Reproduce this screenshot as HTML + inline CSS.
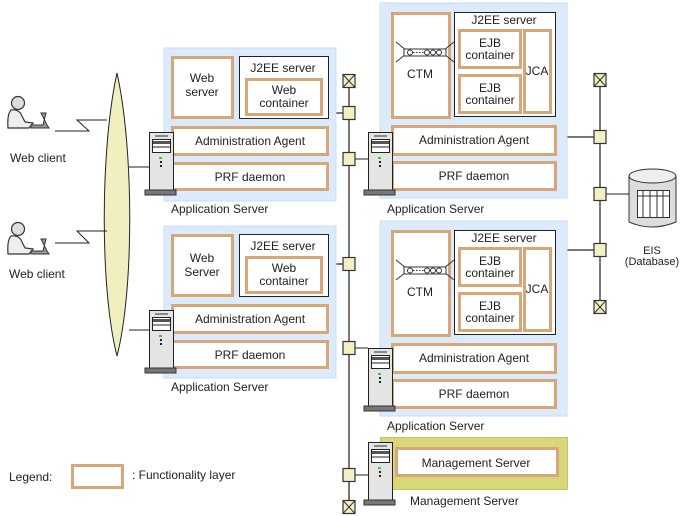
<!DOCTYPE html>
<html><head><meta charset="utf-8"><style>
html,body{margin:0;padding:0;background:#fff;}
svg{display:block;font-family:"Liberation Sans",sans-serif;}
text{font-size:12px;fill:#222;}
</style></head><body>
<svg width="684" height="516" viewBox="0 0 684 516" xmlns="http://www.w3.org/2000/svg">
<defs>
<g id="srv">
<rect x="0.5" y="0.5" width="24" height="60" fill="#e4e4e4" stroke="#222"/>
<rect x="6" y="3" width="13" height="2" fill="#888"/>
<rect x="3.5" y="7.5" width="18" height="13" fill="#fff" stroke="#222"/>
<rect x="4" y="9" width="17" height="3" fill="#555"/>
<line x1="4" y1="15" x2="21" y2="15" stroke="#222"/>
<rect x="10" y="25" width="3" height="2" fill="#3c3"/>
<rect x="11" y="29" width="2" height="2" fill="#222"/>
<rect x="11" y="33" width="2" height="2" fill="#222"/>
<rect x="-4" y="58" width="31" height="5" fill="#777" stroke="#333"/>
</g>
<g id="sq"><rect x="-6" y="-6.5" width="12" height="13" fill="#f3f0c4" stroke="#333" stroke-width="1.2"/></g>
<g id="xb"><rect x="-6" y="-6.5" width="12" height="13" fill="#f3f0c4" stroke="#333" stroke-width="1.2"/><path d="M-6 -6.5L6 6.5M6 -6.5L-6 6.5" stroke="#333"/></g>
<g id="user">
<circle cx="13" cy="7" r="6.5" fill="#ddd" stroke="#333" stroke-width="1.2"/>
<path d="M6 14 Q2 18 3 32 L24 32 L28 27 L20 26 L16 18 Q13 13 6 14Z" fill="#eee" stroke="#333" stroke-width="1.2"/>
<path d="M36 17 L41 17 L38 29 L26 29 L26 32 L44 32 L42 29 Z" fill="#999" stroke="#333" stroke-width="1"/>
</g>
<g id="ctm">
<path d="M0 0 L10 8 M0 20 L10 12 M58 0 L48 8 M58 20 L48 12" stroke="#333"/>
<rect x="8" y="7" width="42" height="7" fill="#fff" stroke="#333"/>
<circle cx="14" cy="10.5" r="2.5" fill="#fff" stroke="#333"/>
<circle cx="31" cy="10.5" r="2.5" fill="#fff" stroke="#333"/>
<circle cx="37" cy="10.5" r="2.5" fill="#fff" stroke="#333"/>
<circle cx="43" cy="10.5" r="2.5" fill="#fff" stroke="#333"/>
<line x1="17" y1="10.5" x2="28" y2="10.5" stroke="#333" stroke-dasharray="1.5,1.5"/>
</g>
</defs>

<line x1="349" y1="82" x2="349" y2="507" stroke="#777" stroke-width="2"/>
<line x1="600" y1="80" x2="600" y2="307" stroke="#777" stroke-width="2"/>

<path d="M117 73 C 100 150 100 290 117 356 C 134 290 134 150 117 73Z" fill="#f0efc0" stroke="#222"/>

<use href="#user" x="5" y="96"/>
<text x="10" y="162">Web client</text>
<path d="M55 131 H89 L77 120 H107" fill="none" stroke="#222"/>
<use href="#user" x="5" y="222"/>
<text x="9" y="278">Web client</text>
<path d="M55 243 H89 L77 231 H107" fill="none" stroke="#222"/>

<line x1="129" y1="167" x2="149" y2="167" stroke="#222"/>
<line x1="129" y1="330" x2="149" y2="330" stroke="#222"/>
<line x1="336" y1="113" x2="349" y2="113" stroke="#777" stroke-width="2"/>
<line x1="349" y1="159" x2="368" y2="159" stroke="#222"/>
<line x1="336" y1="264" x2="349" y2="264" stroke="#777" stroke-width="2"/>
<line x1="349" y1="348" x2="368" y2="348" stroke="#222"/>
<line x1="349" y1="475" x2="368" y2="475" stroke="#222"/>
<line x1="567" y1="137" x2="600" y2="137" stroke="#777" stroke-width="2"/>
<line x1="600" y1="194" x2="630" y2="194" stroke="#222"/>
<line x1="567" y1="250" x2="600" y2="250" stroke="#777" stroke-width="2"/>

<g fill="#fff" stroke="#d7a679" stroke-width="3">
<rect x="164" y="48" width="172" height="153" fill="#dcebfb" stroke="#c6ddf4" stroke-width="1"/>
<rect x="172.5" y="57.5" width="60" height="60"/>
<rect x="239.5" y="56.5" width="89" height="62" stroke="#222" stroke-width="1"/>
<rect x="246.5" y="79.5" width="75" height="35"/>
<rect x="172.5" y="127.5" width="155" height="27"/>
<rect x="172.5" y="163.5" width="155" height="26"/>
</g>
<text x="202" y="82" text-anchor="middle">Web</text><text x="202" y="96" text-anchor="middle">server</text>
<text x="283" y="72" text-anchor="middle">J2EE server</text>
<text x="284" y="94" text-anchor="middle">Web</text><text x="284" y="107" text-anchor="middle">container</text>
<text x="250" y="145" text-anchor="middle">Administration Agent</text>
<text x="250" y="181" text-anchor="middle">PRF daemon</text>
<text x="171" y="213">Application Server</text>
<use href="#srv" x="149" y="132"/>

<g fill="#fff" stroke="#d7a679" stroke-width="3">
<rect x="164" y="226" width="172" height="152" fill="#dcebfb" stroke="#c6ddf4" stroke-width="1"/>
<rect x="172.5" y="235.5" width="60" height="60"/>
<rect x="239.5" y="234.5" width="89" height="62" stroke="#222" stroke-width="1"/>
<rect x="246.5" y="257.5" width="75" height="35"/>
<rect x="172.5" y="305.5" width="155" height="27"/>
<rect x="172.5" y="341.5" width="155" height="26"/>
</g>
<text x="202" y="262" text-anchor="middle">Web</text><text x="202" y="276" text-anchor="middle">Server</text>
<text x="283" y="250" text-anchor="middle">J2EE server</text>
<text x="284" y="272" text-anchor="middle">Web</text><text x="284" y="285" text-anchor="middle">container</text>
<text x="250" y="323" text-anchor="middle">Administration Agent</text>
<text x="250" y="359" text-anchor="middle">PRF daemon</text>
<text x="171" y="391">Application Server</text>
<use href="#srv" x="149" y="310"/>

<g fill="#fff" stroke="#d7a679" stroke-width="3">
<rect x="380" y="3" width="187" height="195" fill="#dcebfb" stroke="#c6ddf4" stroke-width="1"/>
<rect x="392.5" y="13.5" width="57" height="104"/>
<rect x="454.5" y="12.5" width="101" height="104" stroke="#222" stroke-width="1"/>
<rect x="459.5" y="30.5" width="61" height="37"/>
<rect x="459.5" y="75.5" width="61" height="37"/>
<rect x="524.5" y="30.5" width="26" height="82"/>
<rect x="392.5" y="126.5" width="163" height="28"/>
<rect x="392.5" y="162.5" width="163" height="27"/>
</g>
<use href="#ctm" x="396" y="42"/>
<text x="420" y="78" text-anchor="middle">CTM</text>
<text x="504" y="24" text-anchor="middle">J2EE server</text>
<text x="490" y="47" text-anchor="middle">EJB</text><text x="490" y="59" text-anchor="middle">container</text>
<text x="490" y="92" text-anchor="middle">EJB</text><text x="490" y="104" text-anchor="middle">container</text>
<text x="537" y="75" text-anchor="middle">JCA</text>
<text x="474" y="144" text-anchor="middle">Administration Agent</text>
<text x="474" y="180" text-anchor="middle">PRF daemon</text>
<text x="387" y="213">Application Server</text>
<use href="#srv" x="368" y="132"/>

<g fill="#fff" stroke="#d7a679" stroke-width="3">
<rect x="380" y="221" width="187" height="195" fill="#dcebfb" stroke="#c6ddf4" stroke-width="1"/>
<rect x="392.5" y="231.5" width="57" height="104"/>
<rect x="454.5" y="230.5" width="101" height="104" stroke="#222" stroke-width="1"/>
<rect x="459.5" y="248.5" width="61" height="37"/>
<rect x="459.5" y="293.5" width="61" height="37"/>
<rect x="524.5" y="248.5" width="26" height="82"/>
<rect x="392.5" y="344.5" width="163" height="28"/>
<rect x="392.5" y="380.5" width="163" height="27"/>
</g>
<use href="#ctm" x="396" y="260"/>
<text x="420" y="296" text-anchor="middle">CTM</text>
<text x="504" y="242" text-anchor="middle">J2EE server</text>
<text x="490" y="265" text-anchor="middle">EJB</text><text x="490" y="277" text-anchor="middle">container</text>
<text x="490" y="310" text-anchor="middle">EJB</text><text x="490" y="322" text-anchor="middle">container</text>
<text x="537" y="293" text-anchor="middle">JCA</text>
<text x="474" y="362" text-anchor="middle">Administration Agent</text>
<text x="474" y="398" text-anchor="middle">PRF daemon</text>
<text x="387" y="430">Application Server</text>
<use href="#srv" x="368" y="348"/>

<rect x="380.5" y="437.5" width="187" height="52" fill="#d8d87a" stroke="#c4c466"/>
<rect x="396.5" y="448.5" width="161" height="27" fill="#fff" stroke="#d7a679" stroke-width="3"/>
<text x="476" y="467" text-anchor="middle">Management Server</text>
<text x="410" y="505">Management Server</text>
<use href="#srv" x="368" y="442"/>

<use href="#xb" x="349" y="81"/>
<use href="#sq" x="349" y="113"/>
<use href="#sq" x="349" y="159"/>
<use href="#sq" x="349" y="264"/>
<use href="#sq" x="349" y="348"/>
<use href="#sq" x="349" y="475"/>
<use href="#xb" x="349" y="507"/>
<use href="#xb" x="600" y="80"/>
<use href="#sq" x="600" y="137"/>
<use href="#sq" x="600" y="194"/>
<use href="#sq" x="600" y="250"/>
<use href="#xb" x="600" y="307"/>

<path d="M629 176 V222 Q652 232 676 222 V176" fill="#ddd" stroke="#333"/>
<ellipse cx="652.5" cy="176" rx="23.5" ry="7" fill="#eee" stroke="#333"/>
<rect x="637.5" y="190.5" width="32" height="27" fill="#fff" stroke="#333"/>
<path d="M637 196 H670 M643 190 V218 M650 190 V218 M657 190 V218 M663 190 V218" stroke="#333"/>
<text x="652" y="254" text-anchor="middle" style="font-size:11px">EIS</text>
<text x="652" y="265" text-anchor="middle" style="font-size:11px">(Database)</text>

<text x="9" y="481">Legend:</text>
<rect x="72.5" y="465.5" width="50" height="22" fill="#fff" stroke="#d7a679" stroke-width="3"/>
<text x="132" y="479">: Functionality layer</text>
</svg>
</body></html>
